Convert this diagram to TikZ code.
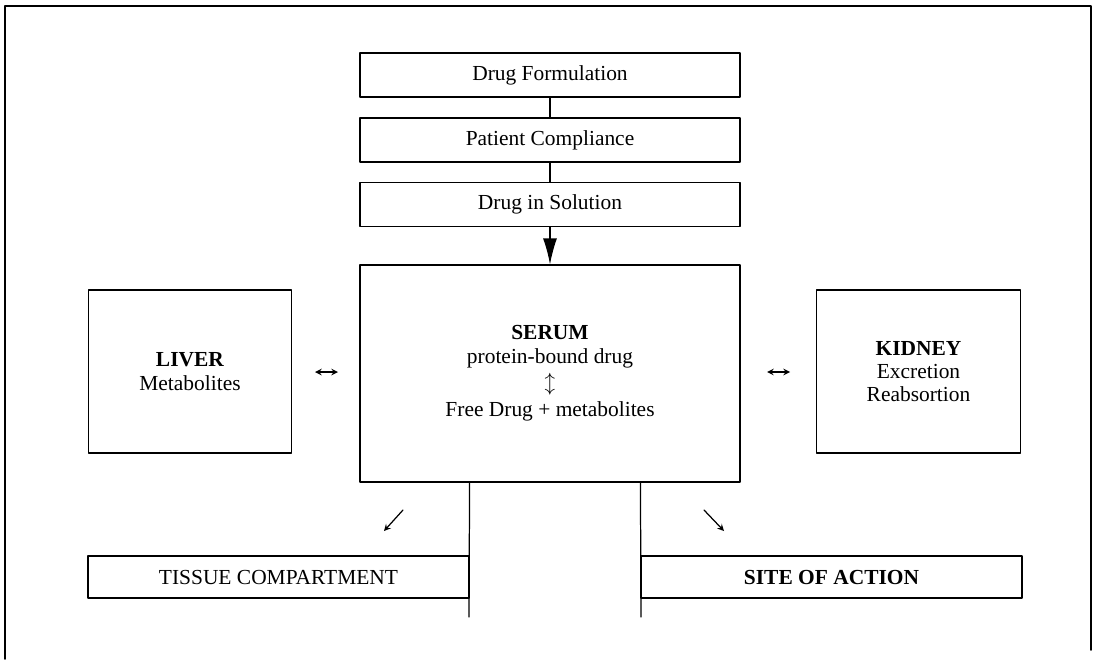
\documentclass[tikz,border=0pt]{standalone}
\usepackage{fontspec}
\setmainfont{Liberation Serif}
\usetikzlibrary{arrows.meta}
\begin{document}
\begin{tikzpicture}[x=0.02cm,y=-0.02cm,line join = round, line cap = round,>=stealth,
	box/.style={draw,line width=0.7pt,inner sep=0pt,align=center,font=\fontsize{12.2}{13.2}\selectfont},
	topbox/.style={box,minimum width=7.6cm,minimum height=0.88cm},
	sidebox/.style={box,minimum width=4.07cm,minimum height=3.26cm},
	lowbox/.style={box,minimum width=7.62cm,minimum height=0.84cm},
	bigtip/.style={-{Latex[length=0.52cm,width=0.28cm]}}]
	\useasboundingbox (0,0) rectangle (1098,659);
	\draw[line width=0.9pt] (5,659)--(5,6)--(1091,6)--(1091,650);
	\node[topbox] (form) at (550,75) {Drug Formulation};
	\node[topbox] (compl) at (550,140) {Patient Compliance};
	\node[topbox] (solut) at (550,204.5) {Drug in Solution};
	\node[box,minimum width=7.6cm,minimum height=4.34cm] (serum) at (550,373.5)
	{\textbf{SERUM}\\protein-bound drug\\[1.5pt]\smash{$\updownarrow$}\\[2.5pt]Free Drug + metabolites};
	\node[sidebox] (liver) at (190,371.5) {\textbf{LIVER}\\Metabolites};
	\node[sidebox] (kidney) at (918.5,371.5) {\textbf{KIDNEY}\\Excretion\\Reabsortion};
	\node[lowbox] (tissue) at (278.5,577) {TISSUE COMPARTMENT};
	\node[lowbox] (site) at (831.5,577) {\textbf{SITE OF ACTION}};
	\path
	(315,372) coordinate(L1)
	(338,372) coordinate(L2)
	(767,372) coordinate(K1)
	(790,372) coordinate(K2)
	(403,510) coordinate(T1)
	(384,531) coordinate(T2)
	(704,510) coordinate(S1)
	(724,531) coordinate(S2)
	(469,617) coordinate(stemL)
	(641,617) coordinate(stemR)
	;
	\draw[line width=0.7pt] (form)--(compl) (compl)--(solut);
	\draw[line width=0.7pt,bigtip] (solut)--(serum);
	\draw[line width=0.7pt] (serum.south -| tissue.east)--(stemL) (serum.south -| site.west)--(stemR);
	\draw[line width=0.7pt,<->] (L1)--(L2);
	\draw[line width=0.7pt,<->] (K1)--(K2);
	\draw[line width=0.7pt,->] (T1)--(T2);
	\draw[line width=0.7pt,->] (S1)--(S2);
\end{tikzpicture}
\end{document}
